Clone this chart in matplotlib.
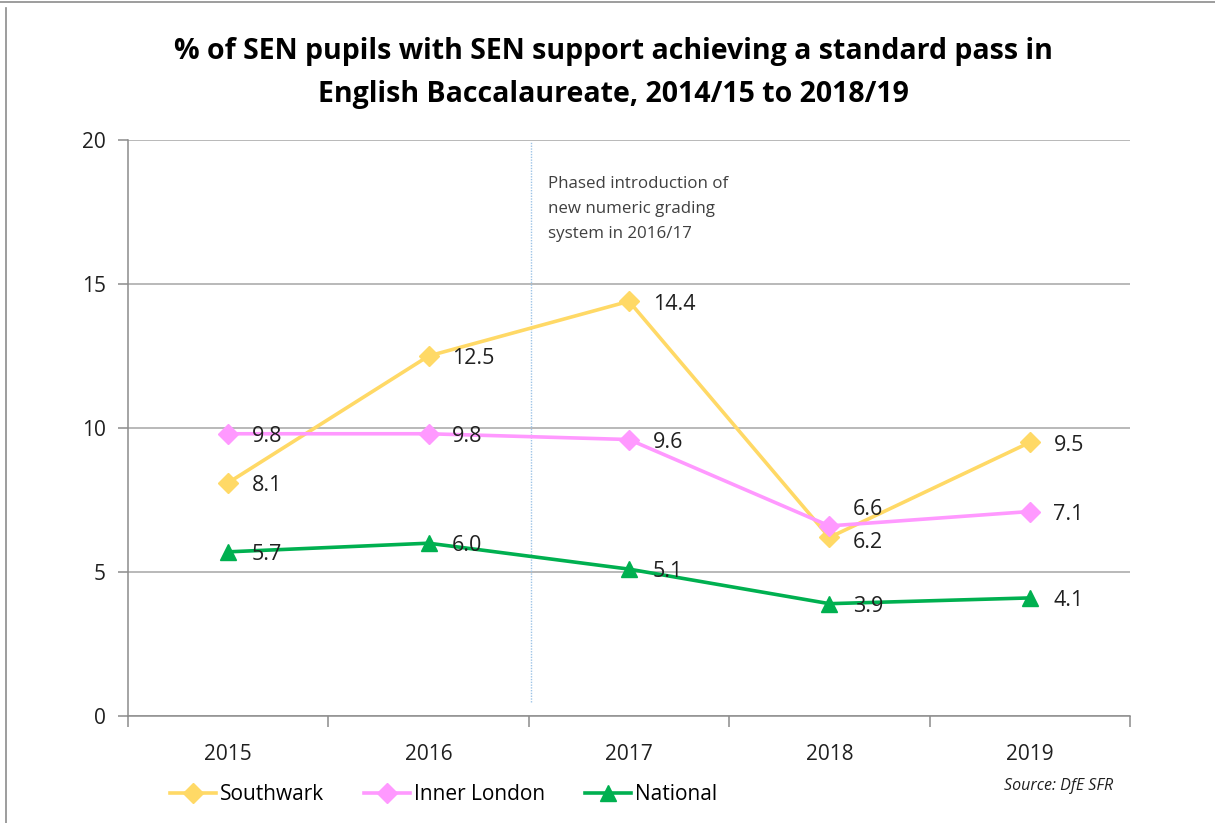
import matplotlib.pyplot as plt
from matplotlib.lines import Line2D
from matplotlib.ticker import FixedLocator, NullFormatter

years = [2015, 2016, 2017, 2018, 2019]
southwark = [8.1, 12.5, 14.4, 6.2, 9.5]
inner_london = [9.8, 9.8, 9.6, 6.6, 7.1]
national = [5.7, 6.0, 5.1, 3.9, 4.1]

series_names = ["Southwark", "Inner London", "National"]
series_colors = ["#FFD966", "#FF99FF", "#00B050"]
series_markers = ["D", "D", "^"]

plt.rcParams['font.family'] = ['Open Sans', 'DejaVu Sans']

fig = plt.figure(figsize=(12.15, 8.23), dpi=100)
ax = fig.add_axes([128 / 1215, 107 / 823, 1002 / 1215, 576 / 823])

all_series = [southwark, inner_london, national]
for vals, name, col, mk in zip(all_series, series_names, series_colors, series_markers):
    ms = 10 if mk == "D" else 12
    ax.plot(years, vals, color=col, lw=2.6, marker=mk, ms=ms,
            markeredgecolor=col, label=name, zorder=3)

# data labels (right of point; Inner London 2018 sits above)
for vals, name in zip(all_series, series_names):
    for x, v in zip(years, vals):
        dy = 0
        if name == "Inner London" and x == 2018:
            dy = 14
        elif name == "Southwark" and x == 2018:
            dy = -2
        ax.annotate(f"{v:.1f}", (x, v), xytext=(17, dy - 2), textcoords="offset points",
                    ha="left", va="center", fontsize=15.5, color="#202020", zorder=4)

# phased introduction marker
ax.plot([2016.51, 2016.51], [0.5, 19.95], color="#9DC3E6", lw=1.0, ls=(0, (1, 1)), zorder=2)
ax.text(2016.595, 18.75, "Phased introduction of\nnew numeric grading\nsystem in 2016/17",
        ha="left", va="top", fontsize=12.2, color="#404040", linespacing=1.75)

ax.set_xlim(2014.5, 2019.5)
ax.set_ylim(0, 20)
ax.set_yticks([0, 5, 10, 15, 20])
ax.yaxis.grid(True, color="#A6A6A6", lw=1.1)
ax.set_axisbelow(True)

ax.set_xticks(years)
ax.xaxis.set_minor_locator(FixedLocator([2014.5, 2015.5, 2016.5, 2017.5, 2018.5, 2019.5]))
ax.xaxis.set_minor_formatter(NullFormatter())
ax.tick_params(axis="x", which="major", length=0, pad=20, labelsize=15, labelcolor="#202020")
ax.tick_params(axis="x", which="minor", length=8, color="#8C8C8C", width=1.1, direction="out")
ax.tick_params(axis="y", length=7, color="#8C8C8C", width=1.1, pad=9, labelsize=15,
               labelcolor="#202020")

for s in ["top", "right"]:
    ax.spines[s].set_visible(False)
for s in ["left", "bottom"]:
    ax.spines[s].set_color("#8C8C8C")
    ax.spines[s].set_linewidth(1.1)

fig.text(0.505, 1 - 73 / 823, "% of SEN pupils with SEN support achieving a standard pass in\n"
         "English Baccalaureate, 2014/15 to 2018/19",
         ha="center", va="center", fontsize=20.5, fontweight="bold", linespacing=1.65)

handles = [Line2D([], [], color=c, lw=2.6, marker=m, ms=(10 if m == "D" else 12), markeredgecolor=c)
           for c, m in zip(series_colors, series_markers)]
fig.legend(handles, series_names, loc="center left", bbox_to_anchor=(162 / 1215, 1 - 795 / 823),
           ncol=3, frameon=False, fontsize=15, handlelength=2.2, handletextpad=0.2,
           columnspacing=1.9, borderaxespad=0)

fig.text(1113 / 1215, 1 - 786 / 823, "Source: DfE SFR", ha="right", va="center",
         fontsize=11.5, style="italic", color="#202020")

# outer chart frame (top and left edges)
fig.add_artist(Line2D([0, 1], [1 - 1.5 / 823, 1 - 1.5 / 823], color="#8C8C8C", lw=1.2,
                      transform=fig.transFigure))
fig.add_artist(Line2D([6 / 1215, 6 / 1215], [0, 1 - 8 / 823], color="#8C8C8C", lw=1.2,
                      transform=fig.transFigure))

fig.savefig("out.png", dpi=100)
